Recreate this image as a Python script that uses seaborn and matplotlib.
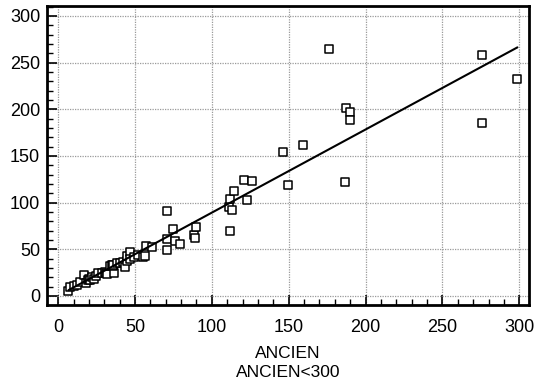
import numpy as np
import pandas as pd
import matplotlib
matplotlib.use("Agg")
import matplotlib.pyplot as plt
from matplotlib.ticker import MultipleLocator
import seaborn as sns

# data
ancien = [6.7, 7.8, 10.4, 12.0, 14.3, 16.5, 18.2, 19.7, 20.0, 21.0, 22.0, 23.0,
          24.5, 26.2, 28.7, 30.6, 31.0, 32.0, 33.8, 35.0, 36.6, 35.8, 36.0, 38.2,
          40.0, 42.5, 43.6, 45.1, 44.9, 46.8, 47.0, 49.4, 52.0, 55.5, 56.5, 57.0,
          61.0, 70.7, 70.9, 70.9, 74.6, 76.3, 79.2, 88.5, 89.1, 90.0, 111.7, 111.3,
          113.4, 111.9, 114.3, 120.6, 122.8, 126.0, 146.6, 149.6, 159.6, 176.5,
          186.5, 187.4, 190.0, 190.0, 275.9, 275.9, 298.8]
nouveau = [5.6, 10.0, 10.9, 12.0, 15.5, 22.7, 13.7, 17.3, 18.0, 17.0, 20.0, 18.0,
           21.0, 24.5, 24.5, 26.2, 25.0, 24.0, 31.6, 33.0, 25.1, 31.6, 33.0, 35.2,
           35.0, 36.9, 31.0, 37.3, 43.0, 46.9, 39.4, 42.2, 44.0, 41.6, 42.3, 53.4,
           52.3, 61.5, 49.4, 90.8, 71.5, 59.4, 56.2, 65.1, 62.6, 74.0, 69.7, 95.4,
           91.9, 104.0, 112.5, 124.3, 103.2, 123.2, 153.9, 118.9, 161.7, 265.1,
           121.8, 201.6, 196.7, 188.1, 258.0, 185.2, 232.3]

x_label = "ANCIEN"
subtitle = "ANCIEN<300"

df = pd.DataFrame({"ANCIEN": ancien, "NOUVEAU": nouveau})

sns.set_theme(style="white")
plt.rcParams["font.family"] = ["Liberation Sans", "DejaVu Sans"]

fig = plt.figure(figsize=(5.35, 3.86), dpi=100)
ax = fig.add_axes([0.088, 0.21, 0.901, 0.7745])

sns.regplot(data=df, x="ANCIEN", y="NOUVEAU", ax=ax, ci=None, truncate=True,
            marker="s",
            scatter_kws=dict(s=27, facecolors="white", edgecolors="black",
                             linewidths=1.1, alpha=1),
            line_kws=dict(color="black", linewidth=1.5))

ax.set_xlim(-7.2, 306.4)
ax.set_ylim(-9.6, 310.7)
ax.xaxis.set_major_locator(MultipleLocator(50))
ax.yaxis.set_major_locator(MultipleLocator(50))
ax.xaxis.set_minor_locator(MultipleLocator(10))
ax.yaxis.set_minor_locator(MultipleLocator(10))

ax.grid(True, which="major", color="#9a9a9a", linestyle=(0, (1, 1)), linewidth=0.9)
ax.set_axisbelow(True)

for sp in ax.spines.values():
    sp.set_visible(True)
    sp.set_color("black")
    sp.set_linewidth(2.0)

ax.tick_params(which="major", direction="in", length=7, width=1.2, color="black",
               labelsize=13, labelcolor="black", pad=10,
               bottom=True, left=True, top=False, right=False)
ax.tick_params(which="minor", direction="in", length=4, width=1.0, color="black",
               bottom=True, left=True, top=False, right=False)
ax.tick_params(axis="y", which="major", pad=5)

ax.set_xlabel(x_label + "\n" + subtitle, fontsize=12.5, color="black",
              linespacing=1.4, labelpad=7)
ax.set_ylabel("")

fig.savefig("out.png", dpi=100)
